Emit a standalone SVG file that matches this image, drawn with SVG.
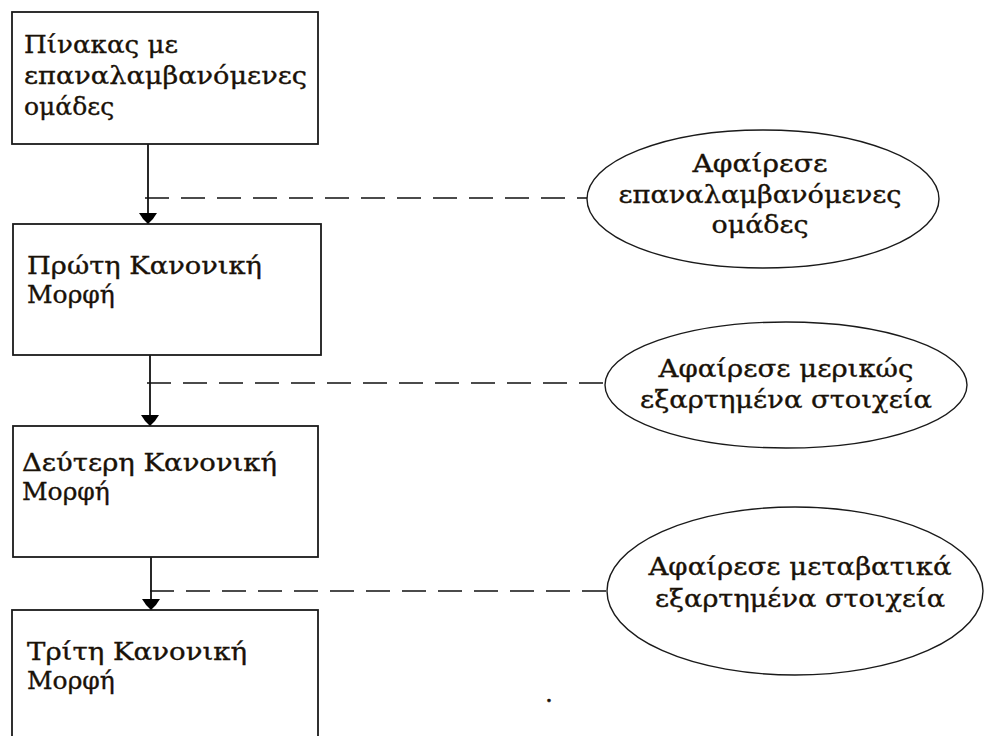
<svg xmlns="http://www.w3.org/2000/svg" width="984" height="736" viewBox="0 0 984 736">
<defs>
<style>
.box{fill:#fff;stroke:#1a1a1a;stroke-width:1.8}
.ell{fill:#fff;stroke:#1a1a1a;stroke-width:1.4}
.t{font-family:"DejaVu Serif","Liberation Serif",serif;font-size:25px;fill:#1a1208;stroke:#1a1208;stroke-width:0.35}
.c{text-anchor:middle}
.flow{stroke:#111;stroke-width:1.8;fill:none}
.dash{stroke:#111;stroke-width:1.6;fill:none;stroke-dasharray:24 12}
</style>
<marker id="ah" markerWidth="12" markerHeight="20" refX="11" refY="10" orient="auto" markerUnits="userSpaceOnUse" viewBox="0 0 12 20">
<path d="M0,1 L0,19 Q7,15 11,10 Q7,5 0,1 Z" fill="#000"/>
</marker>
</defs>
<rect width="984" height="736" fill="#fff"/>

<g id="connectors">
<line class="flow" x1="148" y1="144" x2="148" y2="224" marker-end="url(#ah)"/>
<line class="flow" x1="150" y1="355" x2="150" y2="426" marker-end="url(#ah)"/>
<line class="flow" x1="151" y1="557" x2="151" y2="610" marker-end="url(#ah)"/>
<line class="dash" x1="145" y1="198" x2="587" y2="198"/>
<line class="dash" x1="147" y1="383" x2="605" y2="383"/>
<line class="dash" x1="150" y1="591" x2="607" y2="591"/>
</g>

<g id="n1">
<rect class="box" x="12" y="12" width="306" height="132"/>
<text class="t" x="24" y="53" textLength="154" lengthAdjust="spacingAndGlyphs">Πίνακας με</text>
<text class="t" x="24" y="84" textLength="283" lengthAdjust="spacingAndGlyphs">επαναλαμβανόμενες</text>
<text class="t" x="24" y="115">ομάδες</text>
</g>

<g id="n2">
<rect class="box" x="13" y="224" width="308" height="131"/>
<text class="t" x="27" y="274" textLength="235" lengthAdjust="spacingAndGlyphs">Πρώτη Κανονική</text>
<text class="t" x="27" y="303">Μορφή</text>
</g>

<g id="n3">
<rect class="box" x="13" y="426" width="305" height="131"/>
<text class="t" x="22" y="471" textLength="255" lengthAdjust="spacingAndGlyphs">Δεύτερη Κανονική</text>
<text class="t" x="22" y="500">Μορφή</text>
</g>

<g id="n4">
<rect class="box" x="12" y="610" width="306" height="140"/>
<text class="t" x="27" y="660" textLength="220" lengthAdjust="spacingAndGlyphs">Τρίτη Κανονική</text>
<text class="t" x="27" y="689">Μορφή</text>
</g>

<g id="e1">
<ellipse class="ell" cx="763" cy="199" rx="176" ry="69"/>
<text class="t c" x="760" y="172" textLength="135" lengthAdjust="spacingAndGlyphs">Αφαίρεσε</text>
<text class="t c" x="760" y="203" textLength="283" lengthAdjust="spacingAndGlyphs">επαναλαμβανόμενες</text>
<text class="t c" x="760" y="233" textLength="97" lengthAdjust="spacingAndGlyphs">ομάδες</text>
</g>

<g id="e2">
<ellipse class="ell" cx="786" cy="385" rx="181" ry="63"/>
<text class="t c" x="786" y="377" textLength="255" lengthAdjust="spacingAndGlyphs">Αφαίρεσε μερικώς</text>
<text class="t c" x="786" y="408" textLength="292" lengthAdjust="spacingAndGlyphs">εξαρτημένα στοιχεία</text>
</g>

<g id="e3">
<ellipse class="ell" cx="795" cy="591" rx="188" ry="84"/>
<text class="t c" x="800" y="575" textLength="303" lengthAdjust="spacingAndGlyphs">Αφαίρεσε μεταβατικά</text>
<text class="t c" x="800" y="607" textLength="290" lengthAdjust="spacingAndGlyphs">εξαρτημένα στοιχεία</text>
</g>

<text class="t" x="545" y="702" font-size="14">.</text>
</svg>
